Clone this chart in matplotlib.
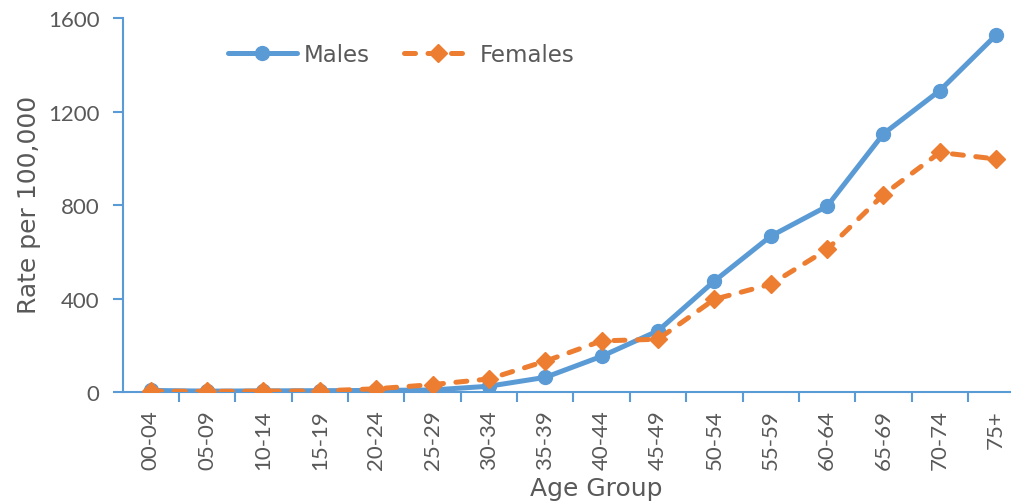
import matplotlib
matplotlib.use("Agg")
import matplotlib.pyplot as plt
from matplotlib.ticker import FixedLocator

age_groups = ["00-04", "05-09", "10-14", "15-19", "20-24", "25-29", "30-34", "35-39",
              "40-44", "45-49", "50-54", "55-59", "60-64", "65-69", "70-74", "75+"]
males = [8, 5, 6, 7, 8, 10, 26, 64, 154, 263, 476, 668, 796, 1106, 1291, 1529]
females = [5, 4, 5, 6, 15, 33, 57, 133, 220, 227, 398, 462, 611, 846, 1026, 998]
yticks = [0, 400, 800, 1200, 1600]

BLUE = "#5B9BD5"
ORANGE = "#ED7D31"
GREY = "#595959"

plt.rcParams['font.family'] = ['Lato', 'DejaVu Sans']

fig = plt.figure(figsize=(10.12, 5.02), dpi=100)
AX_L, AX_B = 123.3, 393.3
AX_W, AX_H = 1012 - 123.3, 393.3 - 19.3
ax = fig.add_axes([AX_L / 1012, 1 - AX_B / 502, AX_W / 1012, AX_H / 502])

x = list(range(len(age_groups)))
ax.plot(x, males, color=BLUE, lw=3.6, marker='o', ms=10, label="Males",
        solid_capstyle='round', zorder=3)
ax.plot(x, females, color=ORANGE, lw=3.6, marker='D', ms=9, label="Females",
        dashes=(2.2, 2.5), dash_capstyle='round', zorder=4)

ax.set_xlim(-0.486, 15.28)
ax.set_ylim(0, 1600)
ax.set_yticks(yticks)
ax.set_xticks(x)
ax.set_xticklabels(age_groups, rotation=90)
ax.xaxis.set_minor_locator(FixedLocator([i - 0.5 for i in range(len(age_groups))]))

for s in ['top', 'right']:
    ax.spines[s].set_visible(False)
for s in ['left', 'bottom']:
    ax.spines[s].set_color(BLUE)
    ax.spines[s].set_linewidth(1.5)

ax.tick_params(axis='x', which='major', length=0, pad=12, labelsize=16, labelcolor=GREY)
ax.tick_params(axis='x', which='minor', length=7, width=1.5, color=BLUE, direction='out')
ax.tick_params(axis='y', which='major', length=7, width=1.5, color=BLUE, direction='out',
               pad=10, labelsize=16, labelcolor=GREY)

ax.set_xlabel("Age Group", fontsize=18, color=GREY, family='DejaVu Sans')
ax.xaxis.set_label_coords((596 - AX_L) / AX_W, (AX_B - 477) / AX_H)
ax.set_ylabel("Rate per 100,000", fontsize=18, color=GREY, family='DejaVu Sans')
ax.yaxis.set_label_coords((41 - AX_L) / AX_W, (AX_B - 205) / AX_H)

leg = ax.legend(loc='center left', bbox_to_anchor=((228 - AX_L) / AX_W, (AX_B - 56) / AX_H),
                ncol=2, frameon=False, prop={'family': 'DejaVu Sans', 'size': 16.5},
                handlelength=3.0, handletextpad=0.3, columnspacing=1.5,
                borderpad=0, borderaxespad=0, labelcolor=GREY)

fig.savefig("out.png", dpi=100)
